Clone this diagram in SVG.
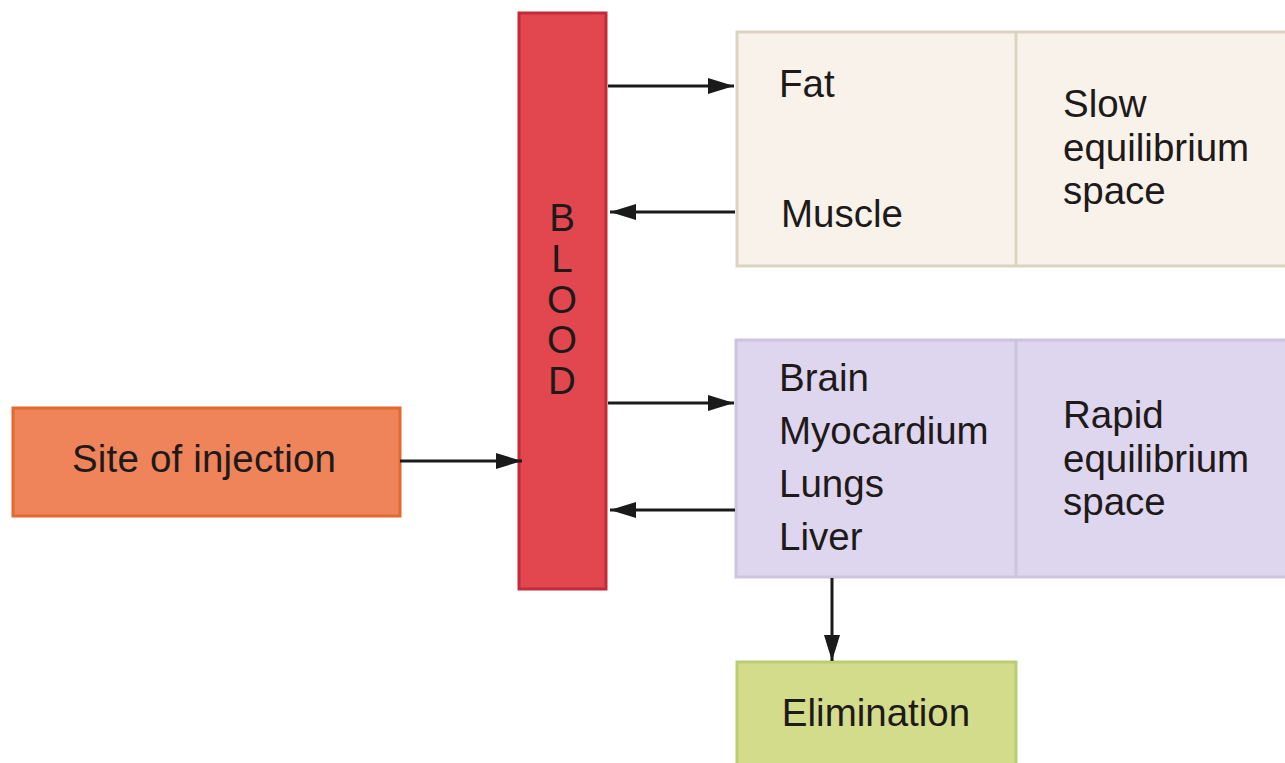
<svg xmlns="http://www.w3.org/2000/svg" width="1285" height="763" viewBox="0 0 1285 763">
<defs>
<marker id="ah" viewBox="0 0 26 16" refX="26" refY="8" markerWidth="26" markerHeight="16" markerUnits="userSpaceOnUse" orient="auto">
<path d="M0,0 L26,8 L0,16 z" fill="#1a1a1a"/>
</marker>
<style>
text{font-family:"Liberation Sans",Arial,sans-serif;fill:#1e1a1a;font-size:38.5px}
.c{stroke-width:3;stroke:#1a1a1a;fill:none;marker-end:url(#ah)}
</style>
</defs>
<rect width="1285" height="763" fill="#ffffff"/>
<g id="site">
<rect x="13" y="408" width="387" height="108" fill="#EF845A" stroke="#E2692F" stroke-width="3"/>
<text x="204" y="472" text-anchor="middle" textLength="264">Site of injection</text>
</g>
<g id="blood">
<rect x="519" y="13" width="87" height="576" fill="#E2474F" stroke="#C22B38" stroke-width="3"/>
<text x="562" y="231" text-anchor="middle" font-size="32">B</text>
<text x="562" y="272" text-anchor="middle" font-size="32">L</text>
<text x="562" y="313" text-anchor="middle" font-size="32">O</text>
<text x="562" y="353" text-anchor="middle" font-size="32">O</text>
<text x="562" y="394" text-anchor="middle" font-size="32">D</text>
</g>
<g id="slow">
<rect x="737" y="32" width="550" height="234" fill="#F8F2EA" stroke="#DDD3C3" stroke-width="3"/>
<line x1="1016" y1="32" x2="1016" y2="266" stroke="#DDD3C3" stroke-width="3"/>
<text x="779" y="97">Fat</text>
<text x="781" y="227">Muscle</text>
<text x="1063" y="117">Slow</text>
<text x="1063" y="161">equilibrium</text>
<text x="1063" y="204">space</text>
</g>
<g id="rapid">
<rect x="736" y="340" width="551" height="237" fill="#DED5EE" stroke="#CDC4E0" stroke-width="3"/>
<line x1="1016" y1="340" x2="1016" y2="577" stroke="#CDC4E0" stroke-width="3"/>
<text x="779" y="391">Brain</text>
<text x="779" y="444">Myocardium</text>
<text x="779" y="497">Lungs</text>
<text x="779" y="550">Liver</text>
<text x="1063" y="428">Rapid</text>
<text x="1063" y="472">equilibrium</text>
<text x="1063" y="515">space</text>
</g>
<g id="elimination">
<rect x="737" y="662" width="279" height="110" fill="#D3DC8A" stroke="#BACD72" stroke-width="3"/>
<text x="876" y="726" text-anchor="middle">Elimination</text>
</g>
<g id="connectors">
<line class="c" x1="400" y1="461" x2="522" y2="461"/>
<line class="c" x1="608" y1="86" x2="734" y2="86"/>
<line class="c" x1="735" y1="212" x2="610" y2="212"/>
<line class="c" x1="608" y1="403" x2="734" y2="403"/>
<line class="c" x1="735" y1="510" x2="610" y2="510"/>
<line class="c" x1="832" y1="578" x2="832" y2="661"/>
</g>
</svg>
